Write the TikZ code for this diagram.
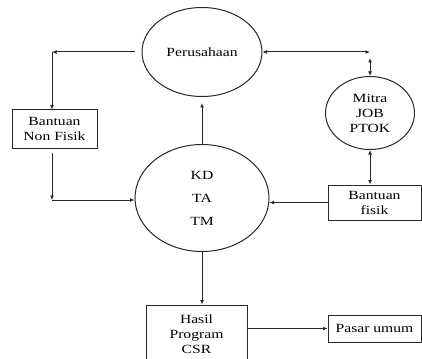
\documentclass[tikz,border=0pt]{standalone}
\usepackage{fontspec}
\setmainfont[FakeStretch=1.25]{Liberation Serif}
\usetikzlibrary{positioning,arrows.meta,shapes.geometric,calc}
\definecolor{inkgray}{RGB}{40,40,40}
\tikzset{
  procbox/.style ={rectangle, draw=inkgray, line width=1pt, align=center,
                font=\fontsize{12.5}{15}\selectfont, inner sep=0pt},
  procell/.style ={ellipse, draw=inkgray, line width=1pt, align=center,
                font=\fontsize{12.5}{15}\selectfont, inner sep=0pt},
  flow/.style ={-{Latex[length=4.5pt,width=4pt]}, line width=1pt, draw=inkgray},
  flowboth/.style ={{Latex[length=4.5pt,width=4pt]}-{Latex[length=4.5pt,width=4pt]}, line width=1pt, draw=inkgray},
}

\begin{document}
\begin{tikzpicture}[x=1pt,y=-1pt]
\useasboundingbox (0,0) rectangle (422,358);
\node[procell, minimum width=120, minimum height=89] (per) at (202,52) {Perusahaan};
\node[procell, minimum width=134, minimum height=107] (kd) at (202,198)
  {KD\\[8pt]TA\\[8pt]TM};
\node[procell, minimum width=89, minimum height=73] (mitra) at (370,113) {Mitra\\JOB\\PTOK};
\node[procbox, minimum width=85, minimum height=38] (bnf) at (54.5,129) {Bantuan\\Non Fisik};
\node[procbox, minimum width=93, minimum height=35] (bf) at (374.5,202.5) {Bantuan\\fisik};
\node[procbox, minimum width=101, minimum height=58] (hasil) at (196.5,334) {Hasil\\Program\\CSR};
\node[procbox, minimum width=93, minimum height=27] (pasar) at (374.5,328.5) {Pasar umum};
\coordinate (c1) at (52,52);
\coordinate (c2) at (52,200);
\coordinate (c3) at (mitra.north |- per.east);
% left loop
\draw[flow, shorten <=7pt] (per.west) -- (c1);
\draw[flow] (c1) -- (c1 |- bnf.north);
\draw[flow, shorten <=4pt] (c1 |- bnf.south) -- (c2);
\draw[flow] (c2) -- (c2 -| kd.west);
% right side
\draw[flowboth] (per.east) -- (c3);
\draw[flowboth] ($(c3)+(0,6)$) -- (mitra.north);
\draw[flowboth] (mitra.south) -- (mitra.south |- bf.north);
\draw[flow] (bf.west) -- (bf.west -| kd.east);
% centre
\draw[flow, shorten >=6pt] (kd.north) -- (per.south);
\draw[flow] (kd.south) -- (kd.south |- hasil.north);
\draw[flow] (pasar.west -| hasil.east) -- (pasar.west);
\end{tikzpicture}
\end{document}
